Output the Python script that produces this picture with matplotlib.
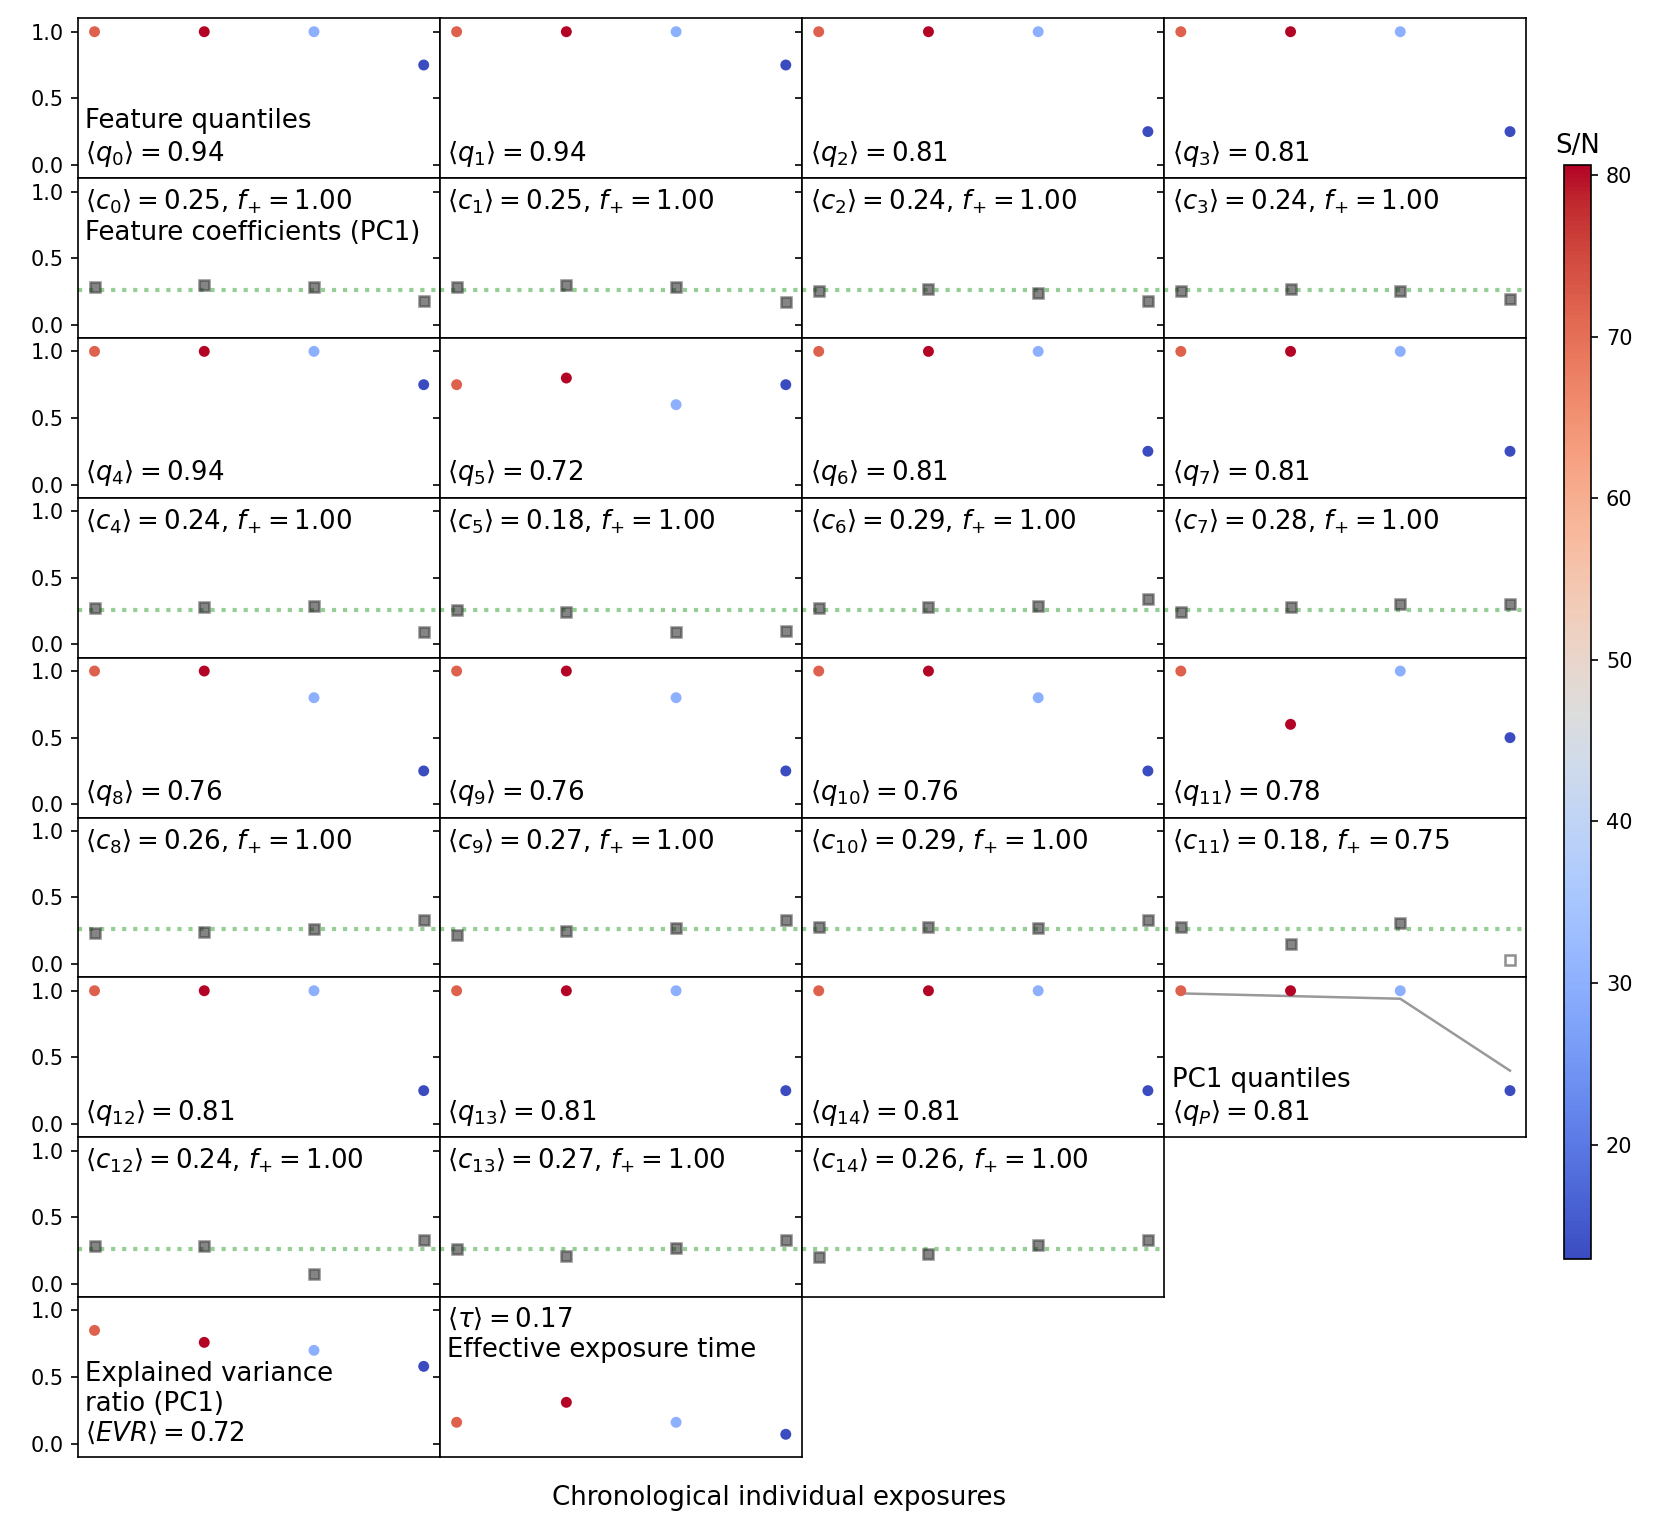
import numpy as np
import matplotlib
matplotlib.use("Agg")
import matplotlib.pyplot as plt
from matplotlib import cm, colors

# exposures in chronological order and their S/N
exposures = [0, 1, 2, 3]
sn = [72.0, 80.6, 30.0, 12.9]

# feature quantiles q0..q14
q = [
    [1.0, 1.0, 1.0, 0.75],
    [1.0, 1.0, 1.0, 0.75],
    [1.0, 1.0, 1.0, 0.25],
    [1.0, 1.0, 1.0, 0.25],
    [1.0, 1.0, 1.0, 0.75],
    [0.75, 0.80, 0.60, 0.75],
    [1.0, 1.0, 1.0, 0.25],
    [1.0, 1.0, 1.0, 0.25],
    [1.0, 1.0, 0.80, 0.25],
    [1.0, 1.0, 0.80, 0.25],
    [1.0, 1.0, 0.80, 0.25],
    [1.0, 0.60, 1.0, 0.50],
    [1.0, 1.0, 1.0, 0.25],
    [1.0, 1.0, 1.0, 0.25],
    [1.0, 1.0, 1.0, 0.25],
]
q_mean = [0.94, 0.94, 0.81, 0.81, 0.94, 0.72, 0.81, 0.81, 0.76, 0.76, 0.76, 0.78, 0.81, 0.81, 0.81]

# feature coefficients (PC1), absolute values; sign kept separately
c = [
    [0.28, 0.30, 0.28, 0.18],
    [0.28, 0.30, 0.28, 0.17],
    [0.25, 0.27, 0.24, 0.18],
    [0.25, 0.27, 0.25, 0.19],
    [0.27, 0.28, 0.29, 0.09],
    [0.26, 0.24, 0.09, 0.10],
    [0.27, 0.28, 0.29, 0.34],
    [0.24, 0.28, 0.30, 0.30],
    [0.23, 0.24, 0.26, 0.33],
    [0.22, 0.25, 0.27, 0.33],
    [0.28, 0.28, 0.27, 0.33],
    [0.28, 0.15, 0.31, 0.03],
    [0.28, 0.28, 0.07, 0.33],
    [0.26, 0.21, 0.27, 0.33],
    [0.20, 0.22, 0.29, 0.33],
]
c_positive = [[True] * 4 for _ in range(15)]
c_positive[11][3] = False
c_mean = [0.25, 0.25, 0.24, 0.24, 0.24, 0.18, 0.29, 0.28, 0.26, 0.27, 0.29, 0.18, 0.24, 0.27, 0.26]
f_plus = [1.00] * 11 + [0.75] + [1.00] * 3
c_ref = 0.26

# PC1 quantiles
qp = [1.0, 1.0, 1.0, 0.25]
qp_line = [0.98, 0.96, 0.94, 0.40]
qp_mean = 0.81

# explained variance ratio and effective exposure time
evr = [0.85, 0.76, 0.70, 0.58]
evr_mean = 0.72
tau = [0.16, 0.31, 0.16, 0.07]
tau_mean = 0.17

nrows, ncols = 9, 4
fs = 12.5
fig = plt.figure(figsize=(1661 / 150, 1532 / 150), dpi=150)
left, right, bottom, top = 0.047, 0.919, 0.049, 0.988
w = (right - left) / ncols
h = (top - bottom) / nrows

norm = colors.Normalize(vmin=min(sn), vmax=max(sn))
cmap = cm.coolwarm


def make_ax(r, col):
    ax = fig.add_axes([left + col * w, top - (r + 1) * h, w, h])
    ax.set_xlim(-0.15, 3.15)
    ax.set_ylim(-0.1, 1.1)
    ax.set_xticks([])
    ax.set_yticks([0, 0.5, 1.0])
    if col != 0:
        ax.set_yticklabels([])
    return ax


def dots(ax, y):
    ax.scatter(exposures, y, c=sn, cmap=cmap, norm=norm, s=18, zorder=3)


for k in range(15):
    row = (k // 4) * 2
    col = k % 4
    # quantile panel
    ax = make_ax(row, col)
    dots(ax, q[k])
    label = r'$\langle q_{%d} \rangle = %.2f$' % (k, q_mean[k])
    if k == 0:
        label = 'Feature quantiles\n' + label
    ax.text(0.02, 0.06, label, transform=ax.transAxes, ha='left', va='bottom', fontsize=fs)

    # coefficient panel
    ax = make_ax(row + 1, col)
    ax.axhline(c_ref, color='#2ca02c', ls=':', lw=2, alpha=0.5)
    for x, v, pos in zip(exposures, c[k], c_positive[k]):
        ax.plot(x, v, marker='s', ms=5, mew=1.2, mec='#333333',
                mfc='#222222' if pos else 'w', alpha=0.55, zorder=3)
    label = r'$\langle c_{%d} \rangle = %.2f$, $f_{+} = %.2f$' % (k, c_mean[k], f_plus[k])
    if k == 0:
        label = label + '\nFeature coefficients (PC1)'
    ax.text(0.02, 0.94, label, transform=ax.transAxes, ha='left', va='top', fontsize=fs)

# PC1 quantiles panel
ax = make_ax(6, 3)
dots(ax, qp)
ax.plot(exposures, qp_line, color='gray', lw=1.2, alpha=0.8, zorder=2)
ax.text(0.02, 0.06, 'PC1 quantiles\n' + r'$\langle q_{P} \rangle = %.2f$' % qp_mean,
        transform=ax.transAxes, ha='left', va='bottom', fontsize=fs)

# explained variance ratio
ax = make_ax(8, 0)
dots(ax, evr)
ax.text(0.02, 0.06, 'Explained variance\nratio (PC1)\n' + r'$\langle EVR \rangle = %.2f$' % evr_mean,
        transform=ax.transAxes, ha='left', va='bottom', fontsize=fs)

# effective exposure time
ax = make_ax(8, 1)
dots(ax, tau)
ax.text(0.02, 0.94, r'$\langle \tau \rangle = %.2f$' % tau_mean + '\nEffective exposure time',
        transform=ax.transAxes, ha='left', va='top', fontsize=fs)

# colorbar
cax = fig.add_axes([0.9416, 0.178, 0.0165, 0.714])
sm = cm.ScalarMappable(norm=norm, cmap=cmap)
cb = fig.colorbar(sm, cax=cax)
cb.set_ticks([20, 30, 40, 50, 60, 70, 80])
cax.set_title('S/N', fontsize=fs)

fig.text(0.469, 0.022, 'Chronological individual exposures', ha='center', va='center', fontsize=fs)

fig.savefig('out.png', dpi=150)
